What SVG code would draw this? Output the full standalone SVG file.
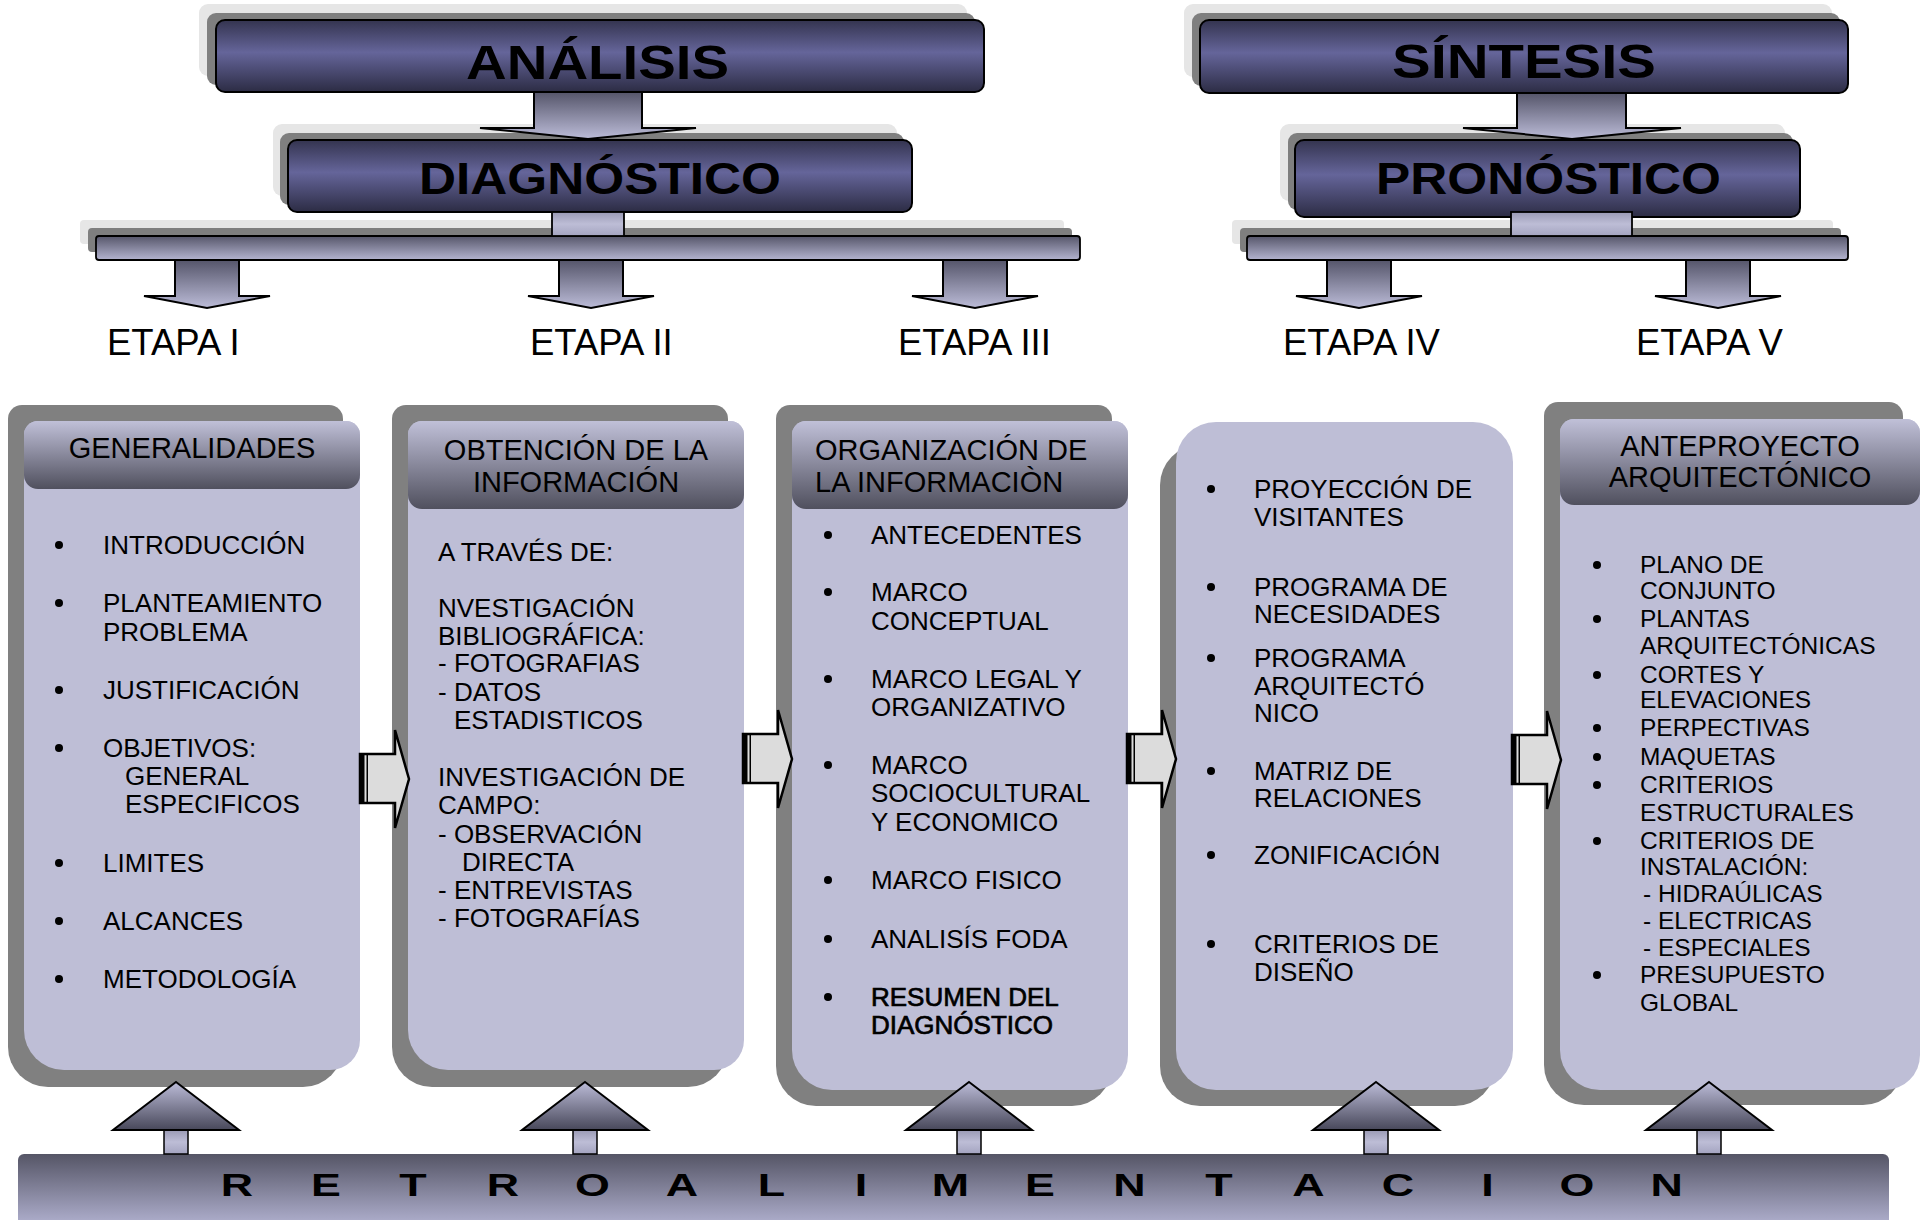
<svg xmlns="http://www.w3.org/2000/svg" width="1929" height="1220" viewBox="0 0 1929 1220">
<defs>
<linearGradient id="gTitle" x1="0" y1="0" x2="0" y2="1">
<stop offset="0" stop-color="#34344f"/><stop offset="0.45" stop-color="#65659a"/><stop offset="1" stop-color="#2c2c44"/>
</linearGradient>
<linearGradient id="gBar" x1="0" y1="0" x2="0" y2="1">
<stop offset="0" stop-color="#56566a"/><stop offset="1" stop-color="#b4b4d0"/>
</linearGradient>
<linearGradient id="gDown" x1="0" y1="0" x2="0" y2="1">
<stop offset="0" stop-color="#55556a"/><stop offset="1" stop-color="#bcbcd8"/>
</linearGradient>
<linearGradient id="gStem" x1="0" y1="0" x2="0" y2="1">
<stop offset="0" stop-color="#9a9ab4"/><stop offset="0.5" stop-color="#bdbdd6"/><stop offset="1" stop-color="#a4a4c0"/>
</linearGradient>
<linearGradient id="gHeader" x1="0" y1="0" x2="0" y2="1">
<stop offset="0" stop-color="#c0c0d8"/><stop offset="1" stop-color="#50505e"/>
</linearGradient>
<linearGradient id="gUp" x1="0" y1="0" x2="0" y2="1">
<stop offset="0" stop-color="#bcbcd8"/><stop offset="1" stop-color="#48485a"/>
</linearGradient>
<linearGradient id="gRetro" x1="0" y1="0" x2="0" y2="1">
<stop offset="0" stop-color="#555566"/><stop offset="1" stop-color="#acacca"/>
</linearGradient>
<g id="rarrow">
<path d="M0,24 H35 V0 L49,49 L35,98 V73 H0 Z" fill="#dcdcdc" stroke="#000" stroke-width="2.5" stroke-linejoin="miter"/>
<rect x="0" y="24" width="4.5" height="49" fill="#000"/>
<rect x="6.5" y="24" width="1.5" height="49" fill="#000"/>
</g>
<g id="downarrow">
<path d="M-32,0 H32 V36 H63 L0,48 L-63,36 H-32 Z" fill="url(#gDown)" stroke="#000" stroke-width="2"/>
</g>
<g id="uparrow">
<rect x="-12" y="48" width="24" height="24" fill="url(#gStem)" stroke="#000" stroke-width="1.5"/>
<path d="M0,0 L63,48 H-63 Z" fill="url(#gUp)" stroke="#000" stroke-width="2"/>
</g>
</defs>
<style>
.t{font-family:"Liberation Sans",Arial,Helvetica,sans-serif;fill:#000}
.item{font-size:26px}
.item5{font-size:24.5px}
.hdr{font-size:29px}
.title{font-weight:bold}
.etapa{font-size:36.5px}
.retro{font-size:32px;font-weight:bold}
.sh1{fill:#e6e6e6}
.sh2{fill:#7f7f7f}
.box{fill:url(#gTitle);stroke:#000;stroke-width:2}
.bar{fill:url(#gBar);stroke:#000;stroke-width:1.8}
.stem{fill:url(#gStem);stroke:#000;stroke-width:1.8}
.back{fill:#808080}
.panel{fill:#bebed6}
.hband{fill:url(#gHeader)}
.semi{stroke:#000;stroke-width:0.7}
</style>

<!-- Top titles -->
<g id="analisis">
<rect class="sh1" x="199" y="4" width="768" height="72" rx="9"/>
<rect class="sh2" x="207" y="13" width="768" height="72" rx="9"/>
<rect class="box" x="216" y="20" width="768" height="72" rx="9"/>
<text class="t title" x="466" y="79" font-size="48" textLength="263" lengthAdjust="spacingAndGlyphs">ANÁLISIS</text>
</g>
<g id="diagnostico">
<rect class="sh1" x="273" y="124" width="624" height="72" rx="9"/>
<rect class="sh2" x="280" y="133" width="624" height="72" rx="9"/>
<rect class="box" x="288" y="140" width="624" height="72" rx="9"/>
<text class="t title" x="419" y="194" font-size="44" textLength="362" lengthAdjust="spacingAndGlyphs">DIAGNÓSTICO</text>
</g>
<g id="sintesis">
<rect class="sh1" x="1184" y="4" width="648" height="73" rx="9"/>
<rect class="sh2" x="1192" y="13" width="648" height="73" rx="9"/>
<rect class="box" x="1200" y="20" width="648" height="73" rx="9"/>
<text class="t title" x="1392" y="78" font-size="48" textLength="264" lengthAdjust="spacingAndGlyphs">SÍNTESIS</text>
</g>
<g id="pronostico">
<rect class="sh1" x="1280" y="124" width="505" height="77" rx="9"/>
<rect class="sh2" x="1288" y="133" width="505" height="77" rx="9"/>
<rect class="box" x="1295" y="140" width="505" height="77" rx="9"/>
<text class="t title" x="1376" y="194" font-size="44" textLength="345" lengthAdjust="spacingAndGlyphs">PRONÓSTICO</text>
</g>

<!-- Distribution bars -->
<g id="bar-left">
<rect class="sh1" x="80" y="220" width="984" height="24" rx="4"/>
<rect class="sh2" x="88" y="228" width="984" height="24" rx="4"/>
<rect class="bar" x="96" y="236" width="984" height="24" rx="3"/>
</g>
<g id="bar-right">
<rect class="sh1" x="1232" y="220" width="601" height="24" rx="4"/>
<rect class="sh2" x="1240" y="228" width="601" height="24" rx="4"/>
<rect class="bar" x="1247" y="236" width="601" height="24" rx="3"/>
</g>

<!-- Panels -->
<g id="col1">
<path class="back" d="M22,405 H329 A14,14 0 0 1 343,419 V1047 A40,40 0 0 1 303,1087 H48 A40,40 0 0 1 8,1047 V419 A14,14 0 0 1 22,405 Z"/>
<path class="panel" d="M38,421 H346 A14,14 0 0 1 360,435 V1040 A30,30 0 0 1 330,1070 H64 A40,40 0 0 1 24,1030 V435 A14,14 0 0 1 38,421 Z"/>
<rect class="hband" x="24" y="421" width="336" height="68" rx="14"/>
<text class="t hdr" x="192" y="458" text-anchor="middle">GENERALIDADES</text>
<g fill="#000"><circle cx="59" cy="545" r="4"/><circle cx="59" cy="603" r="4"/><circle cx="59" cy="690" r="4"/><circle cx="59" cy="748" r="4"/><circle cx="59" cy="863" r="4"/><circle cx="59" cy="921" r="4"/><circle cx="59" cy="979" r="4"/></g>
<text class="t item" x="103" y="554">INTRODUCCIÓN</text>
<text class="t item" x="103" y="612">PLANTEAMIENTO</text>
<text class="t item" x="103" y="641">PROBLEMA</text>
<text class="t item" x="103" y="699">JUSTIFICACIÓN</text>
<text class="t item" x="103" y="757">OBJETIVOS:</text>
<text class="t item" x="125" y="785">GENERAL</text>
<text class="t item" x="125" y="813">ESPECIFICOS</text>
<text class="t item" x="103" y="872">LIMITES</text>
<text class="t item" x="103" y="930">ALCANCES</text>
<text class="t item" x="103" y="988">METODOLOGÍA</text>
</g>

<g id="col2">
<path class="back" d="M406,405 H714 A14,14 0 0 1 728,419 V1047 A40,40 0 0 1 688,1087 H432 A40,40 0 0 1 392,1047 V419 A14,14 0 0 1 406,405 Z"/>
<path class="panel" d="M422,421 H730 A14,14 0 0 1 744,435 V1040 A30,30 0 0 1 714,1070 H448 A40,40 0 0 1 408,1030 V435 A14,14 0 0 1 422,421 Z"/>
<rect class="hband" x="408" y="421" width="336" height="88" rx="14"/>
<text class="t hdr" x="576" y="460" text-anchor="middle">OBTENCIÓN DE LA</text>
<text class="t hdr" x="576" y="492" text-anchor="middle">INFORMACIÓN</text>
<text class="t item" x="438" y="561">A TRAVÉS DE:</text>
<text class="t item" x="438" y="617">NVESTIGACIÓN</text>
<text class="t item" x="438" y="645">BIBLIOGRÁFICA:</text>
<text class="t item" x="438" y="672">- FOTOGRAFIAS</text>
<text class="t item" x="438" y="701">- DATOS</text>
<text class="t item" x="454" y="729">ESTADISTICOS</text>
<text class="t item" x="438" y="786">INVESTIGACIÓN DE</text>
<text class="t item" x="438" y="814">CAMPO:</text>
<text class="t item" x="438" y="843">- OBSERVACIÓN</text>
<text class="t item" x="462" y="871">DIRECTA</text>
<text class="t item" x="438" y="899">- ENTREVISTAS</text>
<text class="t item" x="438" y="927">- FOTOGRAFÍAS</text>
</g>

<g id="col3">
<path class="back" d="M790,405 H1098 A14,14 0 0 1 1112,419 V1066 A40,40 0 0 1 1072,1106 H816 A40,40 0 0 1 776,1066 V419 A14,14 0 0 1 790,405 Z"/>
<path class="panel" d="M806,421 H1114 A14,14 0 0 1 1128,435 V1055 A35,35 0 0 1 1093,1090 H832 A40,40 0 0 1 792,1050 V435 A14,14 0 0 1 806,421 Z"/>
<rect class="hband" x="792" y="421" width="336" height="88" rx="14"/>
<text class="t hdr" x="815" y="460">ORGANIZACIÓN DE</text>
<text class="t hdr" x="815" y="492">LA INFORMACIÒN</text>
<g fill="#000"><circle cx="828" cy="535" r="4"/><circle cx="828" cy="592" r="4"/><circle cx="828" cy="679" r="4"/><circle cx="828" cy="765" r="4"/><circle cx="828" cy="880" r="4"/><circle cx="828" cy="939" r="4"/><circle cx="828" cy="997" r="4"/></g>
<text class="t item" x="871" y="544">ANTECEDENTES</text>
<text class="t item" x="871" y="601">MARCO</text>
<text class="t item" x="871" y="630">CONCEPTUAL</text>
<text class="t item" x="871" y="688">MARCO LEGAL Y</text>
<text class="t item" x="871" y="716">ORGANIZATIVO</text>
<text class="t item" x="871" y="774">MARCO</text>
<text class="t item" x="871" y="802">SOCIOCULTURAL</text>
<text class="t item" x="871" y="831">Y ECONOMICO</text>
<text class="t item" x="871" y="889">MARCO FISICO</text>
<text class="t item" x="871" y="948">ANALISÍS FODA</text>
<text class="t item semi" x="871" y="1006">RESUMEN DEL</text>
<text class="t item semi" x="871" y="1034">DIAGNÓSTICO</text>
</g>

<g id="col4">
<path class="back" d="M1200,445 H1481 A14,14 0 0 1 1495,459 V1066 A40,40 0 0 1 1455,1106 H1200 A40,40 0 0 1 1160,1066 V485 A40,40 0 0 1 1200,445 Z"/>
<rect class="panel" x="1176" y="422" width="337" height="668" rx="40"/>
<g fill="#000"><circle cx="1211" cy="489" r="4"/><circle cx="1211" cy="587" r="4"/><circle cx="1211" cy="658" r="4"/><circle cx="1211" cy="771" r="4"/><circle cx="1211" cy="855" r="4"/><circle cx="1211" cy="944" r="4"/></g>
<text class="t item" x="1254" y="498">PROYECCIÓN DE</text>
<text class="t item" x="1254" y="526">VISITANTES</text>
<text class="t item" x="1254" y="596">PROGRAMA DE</text>
<text class="t item" x="1254" y="623">NECESIDADES</text>
<text class="t item" x="1254" y="667">PROGRAMA</text>
<text class="t item" x="1254" y="695">ARQUITECTÓ</text>
<text class="t item" x="1254" y="722">NICO</text>
<text class="t item" x="1254" y="780">MATRIZ DE</text>
<text class="t item" x="1254" y="807">RELACIONES</text>
<text class="t item" x="1254" y="864">ZONIFICACIÓN</text>
<text class="t item" x="1254" y="953">CRITERIOS DE</text>
<text class="t item" x="1254" y="981">DISEÑO</text>
</g>

<g id="col5">
<path class="back" d="M1558,402 H1889 A14,14 0 0 1 1903,416 V1065 A40,40 0 0 1 1863,1105 H1584 A40,40 0 0 1 1544,1065 V416 A14,14 0 0 1 1558,402 Z"/>
<path class="panel" d="M1574,419 H1906 A14,14 0 0 1 1920,433 V1055 A35,35 0 0 1 1885,1090 H1600 A40,40 0 0 1 1560,1050 V433 A14,14 0 0 1 1574,419 Z"/>
<rect class="hband" x="1560" y="419" width="360" height="86" rx="14"/>
<text class="t hdr" x="1740" y="456" text-anchor="middle">ANTEPROYECTO</text>
<text class="t hdr" x="1740" y="487" text-anchor="middle">ARQUITECTÓNICO</text>
<g fill="#000"><circle cx="1597" cy="565" r="4"/><circle cx="1597" cy="619" r="4"/><circle cx="1597" cy="675" r="4"/><circle cx="1597" cy="728" r="4"/><circle cx="1597" cy="757" r="4"/><circle cx="1597" cy="785" r="4"/><circle cx="1597" cy="841" r="4"/><circle cx="1597" cy="975" r="4"/></g>
<text class="t item5" x="1640" y="573">PLANO DE</text>
<text class="t item5" x="1640" y="599">CONJUNTO</text>
<text class="t item5" x="1640" y="627">PLANTAS</text>
<text class="t item5" x="1640" y="654">ARQUITECTÓNICAS</text>
<text class="t item5" x="1640" y="683">CORTES Y</text>
<text class="t item5" x="1640" y="708">ELEVACIONES</text>
<text class="t item5" x="1640" y="736">PERPECTIVAS</text>
<text class="t item5" x="1640" y="765">MAQUETAS</text>
<text class="t item5" x="1640" y="793">CRITERIOS</text>
<text class="t item5" x="1640" y="821">ESTRUCTURALES</text>
<text class="t item5" x="1640" y="849">CRITERIOS DE</text>
<text class="t item5" x="1640" y="875">INSTALACIÓN:</text>
<text class="t item5" x="1643" y="902">- HIDRAÚLICAS</text>
<text class="t item5" x="1643" y="929">- ELECTRICAS</text>
<text class="t item5" x="1643" y="956">- ESPECIALES</text>
<text class="t item5" x="1640" y="983">PRESUPUESTO</text>
<text class="t item5" x="1640" y="1011">GLOBAL</text>
</g>

<!-- Feedback bar -->
<g id="retroalimentacion">
<path d="M24,1154 H1883 A6,6 0 0 1 1889,1160 V1222 H18 V1160 A6,6 0 0 1 24,1154 Z" fill="url(#gRetro)"/>
<text class="t retro" transform="scale(1.4 1)" y="1196" text-anchor="middle" x="169.3 232.9 295.0 359.3 423.2 487.1 551.1 615.0 678.9 742.9 806.8 870.7 934.6 998.6 1062.5 1126.4 1190.4">RETROALIMENTACION</text>
</g>

<!-- Connectors -->
<g id="connectors">
<path d="M534,92 H642 V128 H696 L588,139 L480,128 H534 Z" fill="url(#gDown)" stroke="#000" stroke-width="2"/>
<path d="M1517,93 H1626 V128 H1681 L1572,139 L1463,128 H1517 Z" fill="url(#gDown)" stroke="#000" stroke-width="2"/>
<rect class="stem" x="552" y="212" width="72" height="24"/>
<rect class="stem" x="1511" y="212" width="121" height="24"/>
<use href="#downarrow" x="207" y="260"/>
<use href="#downarrow" x="591" y="260"/>
<use href="#downarrow" x="975" y="260"/>
<use href="#downarrow" x="1359" y="260"/>
<use href="#downarrow" x="1718" y="260"/>
<use href="#rarrow" x="360" y="730"/>
<use href="#rarrow" x="743" y="710"/>
<use href="#rarrow" x="1127" y="710"/>
<use href="#rarrow" x="1512" y="711"/>
<use href="#uparrow" x="176" y="1082"/>
<use href="#uparrow" x="585" y="1082"/>
<use href="#uparrow" x="969" y="1082"/>
<use href="#uparrow" x="1376" y="1082"/>
<use href="#uparrow" x="1709" y="1082"/>
</g>

<!-- Stage labels -->
<g id="etapas">
<text class="t etapa" x="107" y="355">ETAPA I</text>
<text class="t etapa" x="530" y="355">ETAPA II</text>
<text class="t etapa" x="898" y="355">ETAPA III</text>
<text class="t etapa" x="1283" y="355">ETAPA IV</text>
<text class="t etapa" x="1636" y="355">ETAPA V</text>
</g>
</svg>
